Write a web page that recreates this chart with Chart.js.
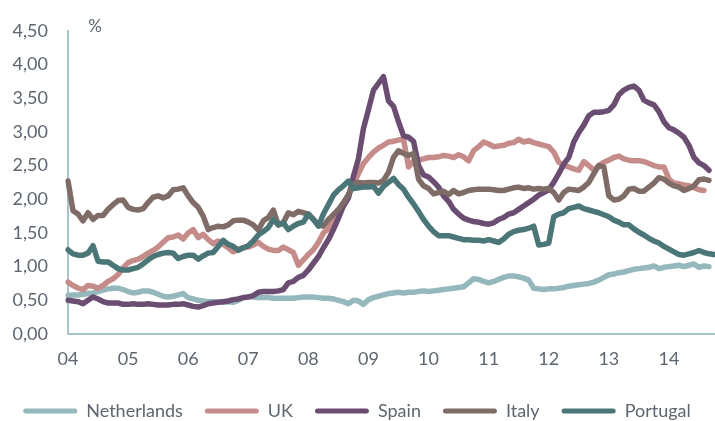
<!DOCTYPE html>
<html>
<head>
<meta charset="utf-8">
<script src="https://cdn.jsdelivr.net/npm/chart.js@4.4.1/dist/chart.umd.min.js"></script>
<style>
  body { margin: 0; background: #fff; overflow: hidden; }
  #wrap { width: 715px; height: 430px; }
</style>
</head>
<body>
<div id="wrap"><canvas id="chart"></canvas></div>
<script>
// monthly rates, Jan 2004 onwards
var months = [];
for (var y = 2004; y <= 2014; y++) {
  for (var m = 1; m <= 12; m++) {
    if (y === 2014 && m > 10) break;
    months.push(y + "-" + (m < 10 ? "0" + m : m));
  }
}

var yearLabels = ["04", "05", "06", "07", "08", "09", "10", "11", "12", "13", "14"];

var netherlands = [
  0.57, 0.58, 0.58, 0.59, 0.60, 0.61, 0.63, 0.65, 0.67, 0.68, 0.68, 0.66,
  0.63, 0.61, 0.62, 0.64, 0.64, 0.62, 0.59, 0.56, 0.55, 0.56, 0.58, 0.60,
  0.54, 0.52, 0.50, 0.49, 0.48, 0.48, 0.47, 0.47, 0.48, 0.47, 0.50, 0.54,
  0.55, 0.55, 0.54, 0.54, 0.54, 0.53, 0.53, 0.53, 0.53, 0.53, 0.54, 0.55,
  0.55, 0.55, 0.54, 0.53, 0.53, 0.52, 0.50, 0.48, 0.45, 0.50, 0.49, 0.44,
  0.51, 0.54, 0.56, 0.58, 0.60, 0.61, 0.62, 0.61, 0.62, 0.62, 0.63, 0.64,
  0.63, 0.64, 0.65, 0.66, 0.67, 0.68, 0.69, 0.70, 0.76, 0.82, 0.81, 0.78,
  0.76, 0.78, 0.81, 0.84, 0.86, 0.86, 0.85, 0.83, 0.80, 0.68, 0.67, 0.66,
  0.67, 0.67, 0.68, 0.69, 0.71, 0.72, 0.73, 0.74, 0.75, 0.77, 0.80, 0.84,
  0.88, 0.89, 0.91, 0.92, 0.94, 0.96, 0.97, 0.98, 0.99, 1.01, 0.97, 0.99,
  1.00, 1.01, 1.02, 1.00, 1.02, 1.04, 0.99, 1.01, 1.00
];

var uk = [
  0.77, 0.72, 0.68, 0.66, 0.72, 0.71, 0.68, 0.72, 0.78, 0.82, 0.88, 0.98,
  1.06, 1.09, 1.11, 1.15, 1.20, 1.24, 1.29, 1.36, 1.43, 1.44, 1.47, 1.41,
  1.50, 1.55, 1.43, 1.48, 1.40, 1.34, 1.38, 1.33, 1.28, 1.22, 1.26, 1.28,
  1.29, 1.32, 1.36, 1.30, 1.26, 1.24, 1.24, 1.29, 1.25, 1.21, 1.02, 1.10,
  1.18, 1.25, 1.36, 1.50, 1.56, 1.68, 1.80, 1.92, 2.05, 2.22, 2.38, 2.53,
  2.62, 2.70, 2.76, 2.80, 2.85, 2.86, 2.88, 2.89, 2.48, 2.57, 2.58, 2.60,
  2.62, 2.62, 2.63, 2.65, 2.64, 2.62, 2.66, 2.63, 2.57, 2.72, 2.78, 2.85,
  2.82, 2.78, 2.79, 2.80, 2.83, 2.84, 2.89, 2.85, 2.87, 2.84, 2.82, 2.80,
  2.78, 2.70, 2.55, 2.50, 2.48, 2.45, 2.43, 2.56, 2.50, 2.43, 2.50, 2.55,
  2.58, 2.62, 2.64, 2.60, 2.58, 2.57, 2.57, 2.56, 2.53, 2.50, 2.48, 2.48,
  2.30, 2.24, 2.23, 2.21, 2.20, 2.17, 2.14, 2.13
];

var spain = [
  0.50, 0.49, 0.48, 0.45, 0.50, 0.55, 0.52, 0.48, 0.46, 0.46, 0.46, 0.44,
  0.44, 0.45, 0.44, 0.44, 0.45, 0.44, 0.43, 0.43, 0.43, 0.44, 0.44, 0.45,
  0.43, 0.41, 0.40, 0.42, 0.45, 0.46, 0.47, 0.48, 0.49, 0.51, 0.52, 0.54,
  0.55, 0.57, 0.62, 0.63, 0.63, 0.63, 0.64, 0.66, 0.76, 0.78, 0.84, 0.87,
  0.95, 1.05, 1.15, 1.28, 1.40, 1.55, 1.72, 1.90, 2.02, 2.34, 2.60, 3.05,
  3.33, 3.62, 3.72, 3.82, 3.46, 3.38, 3.15, 2.94, 2.92, 2.86, 2.50, 2.36,
  2.33, 2.26, 2.18, 2.05, 1.97, 1.85, 1.78, 1.72, 1.69, 1.67, 1.66, 1.64,
  1.63, 1.65, 1.70, 1.73, 1.78, 1.80, 1.85, 1.90, 1.95, 2.00, 2.06, 2.10,
  2.14, 2.25, 2.38, 2.52, 2.62, 2.85, 2.99, 3.10, 3.24, 3.29, 3.29, 3.30,
  3.32, 3.40, 3.55, 3.62, 3.66, 3.68, 3.62, 3.47, 3.43, 3.40, 3.30, 3.15,
  3.06, 3.03, 2.98, 2.92, 2.80, 2.62, 2.54, 2.50, 2.43
];

var italy = [
  2.27, 1.83, 1.78, 1.68, 1.80, 1.70, 1.76, 1.76, 1.85, 1.92, 1.98, 1.99,
  1.88, 1.85, 1.84, 1.86, 1.95, 2.03, 2.05, 2.02, 2.05, 2.14, 2.15, 2.17,
  2.05, 1.95, 1.88, 1.75, 1.55, 1.58, 1.60, 1.59, 1.62, 1.68, 1.69, 1.69,
  1.66, 1.62, 1.54, 1.68, 1.73, 1.84, 1.62, 1.65, 1.80, 1.77, 1.82, 1.80,
  1.78, 1.70, 1.62, 1.60, 1.70, 1.77, 1.85, 1.95, 2.07, 2.22, 2.25, 2.24,
  2.25, 2.25, 2.24, 2.28, 2.40, 2.62, 2.72, 2.68, 2.65, 2.68, 2.30, 2.20,
  2.16, 2.08, 2.10, 2.12, 2.07, 2.13, 2.08, 2.10, 2.13, 2.14, 2.15, 2.15,
  2.15, 2.14, 2.13, 2.13, 2.15, 2.17, 2.18, 2.16, 2.17, 2.15, 2.16, 2.15,
  2.16, 2.10, 1.99, 2.10, 2.15, 2.14, 2.13, 2.18, 2.25, 2.38, 2.50, 2.48,
  2.05, 1.99, 2.00, 2.05, 2.15, 2.16, 2.12, 2.12, 2.18, 2.24, 2.32, 2.30,
  2.24, 2.20, 2.18, 2.13, 2.16, 2.20, 2.29, 2.30, 2.28
];

var portugal = [
  1.25, 1.19, 1.17, 1.17, 1.20, 1.31, 1.08, 1.07, 1.07, 1.02, 0.97, 0.95,
  0.95, 0.97, 0.99, 1.04, 1.10, 1.15, 1.18, 1.20, 1.21, 1.20, 1.12, 1.15,
  1.17, 1.17, 1.11, 1.16, 1.20, 1.21, 1.30, 1.39, 1.33, 1.30, 1.24, 1.28,
  1.31, 1.38, 1.47, 1.52, 1.58, 1.70, 1.62, 1.65, 1.55, 1.60, 1.64, 1.66,
  1.78, 1.70, 1.60, 1.78, 1.92, 2.06, 2.14, 2.20, 2.27, 2.16, 2.17, 2.18,
  2.18, 2.19, 2.09, 2.19, 2.25, 2.31, 2.22, 2.15, 2.03, 1.93, 1.82, 1.70,
  1.60, 1.52, 1.46, 1.46, 1.46, 1.44, 1.42, 1.40, 1.40, 1.39, 1.39, 1.38,
  1.40, 1.38, 1.36, 1.41, 1.48, 1.52, 1.54, 1.55, 1.57, 1.60, 1.32, 1.33,
  1.35, 1.74, 1.78, 1.80, 1.86, 1.88, 1.90, 1.86, 1.84, 1.82, 1.80, 1.77,
  1.74, 1.69, 1.66, 1.62, 1.62, 1.56, 1.51, 1.47, 1.42, 1.38, 1.35, 1.30,
  1.26, 1.22, 1.18, 1.17, 1.19, 1.21, 1.24, 1.21, 1.19, 1.18
];

var textColor = "#5d6670";
var axisColor = "#a6c4ca";

Chart.defaults.font.family = "Lato, 'Open Sans', sans-serif";
Chart.defaults.color = textColor;

function series(label, values, color, order) {
  return {
    label: label,
    data: values,
    borderColor: color,
    backgroundColor: color,
    borderWidth: 5.5,
    pointRadius: 0,
    tension: 0,
    borderJoinStyle: "round",
    borderCapStyle: "round",
    order: order,
  };
}

// "%" unit above the value axis
var unitLabel = {
  id: "unitLabel",
  afterDraw: function (chart) {
    var ctx = chart.ctx;
    var area = chart.chartArea;
    ctx.save();
    ctx.font = "17px Lato, sans-serif";
    ctx.fillStyle = textColor;
    ctx.textAlign = "center";
    ctx.textBaseline = "middle";
    ctx.fillText("%", area.left + 27, area.top - 4);
    ctx.restore();
  },
};

var chart = new Chart(document.getElementById("chart"), {
  type: "line",
  data: {
    labels: months,
    datasets: [
      series("Netherlands", netherlands, "#95b8bc", 5),
      series("UK", uk, "#c58c8a", 4),
      series("Spain", spain, "#6b4d71", 3),
      series("Italy", italy, "#806c67", 2),
      series("Portugal", portugal, "#4b7677", 1),
    ],
  },
  options: {
    responsive: true,
    maintainAspectRatio: false,
    animation: false,
    devicePixelRatio: 1,
    layout: { padding: { top: 25, right: 1, left: 0, bottom: 0 } },
    plugins: {
      tooltip: { enabled: false },
      legend: {
        position: "bottom",
        labels: {
          boxWidth: 54,
          boxHeight: 5,
          padding: 22,
          useBorderRadius: true,
          borderRadius: 2.5,
          font: { size: 18 },
          color: textColor,
          sort: function (a, b) {
            return a.datasetIndex - b.datasetIndex;
          },
          generateLabels: function (chart) {
            var items = Chart.defaults.plugins.legend.labels.generateLabels(chart);
            items.forEach(function (i) {
              i.lineWidth = 0;
            });
            return items;
          },
        },
      },
    },
    scales: {
      x: {
        grid: { display: false, drawTicks: false },
        border: { color: axisColor, width: 2 },
        ticks: {
          autoSkip: false,
          maxRotation: 0,
          padding: 14,
          font: { size: 18 },
          callback: function (value, index) {
            return index % 12 === 0 ? yearLabels[index / 12] : "";
          },
        },
        afterFit: function (scale) {
          scale.height = 46;
          scale.paddingLeft = 0;
          scale.paddingRight = 0;
        },
      },
      y: {
        min: 0,
        max: 4.5,
        grid: { display: false, drawTicks: false },
        border: { color: axisColor, width: 2 },
        ticks: {
          stepSize: 0.5,
          padding: 20,
          font: { size: 18 },
          callback: function (value) {
            return value.toFixed(2).replace(".", ",");
          },
        },
        afterFit: function (scale) {
          scale.width = 68;
        },
      },
    },
  },
  plugins: [unitLabel],
});
</script>
</body>
</html>
